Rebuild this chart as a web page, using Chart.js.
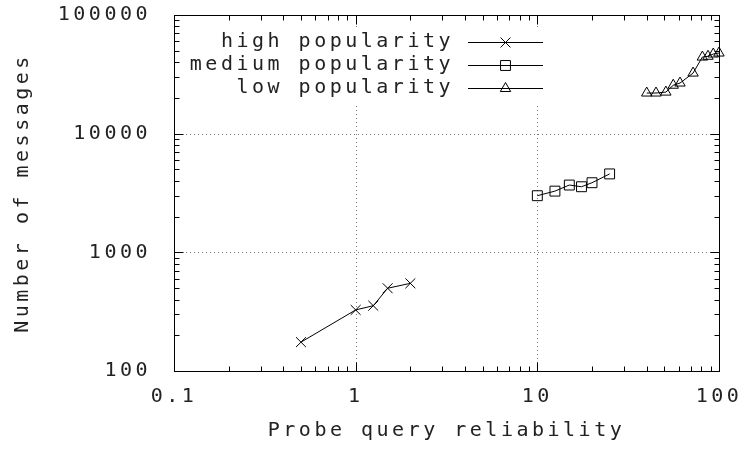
<!DOCTYPE html>
<html>
<head>
<meta charset="utf-8">
<script src="https://cdn.jsdelivr.net/npm/chart.js"></script>
<style>
  html, body { margin: 0; padding: 0; background: #fff; }
  #wrap { width: 750px; height: 449px; position: relative; }
</style>
</head>
<body>
<div id="wrap"><canvas id="c"></canvas></div>
<script>
// ---- data ----
const seriesNames = ['high popularity', 'medium popularity', 'low popularity'];
const highX = [0.5, 1, 1.25, 1.5, 2];
const highY = [175, 327, 355, 498, 548];
const mediumX = [10, 12.5, 15, 17.5, 20, 25];
const mediumY = [3000, 3280, 3690, 3570, 3860, 4580];
const lowX = [40, 45, 51, 56, 61, 72, 81, 87, 93, 100];
const lowY = [22000, 22000, 22400, 25600, 26700, 32400, 44200, 44900, 46900, 47800];
const xTickLabels = ['0.1', '1', '10', '100'];
const yTickLabels = ['100', '1000', '10000', '100000'];
const xTitle = 'Probe query reliability';
const yTitle = 'Number of messages';

// ---- styling ----
const FONT = 'DejaVu Sans Mono';
const FSIZE = 20;
const SPACING = '3.5px';
const TEXT = '#222';

const toPts = (xs, ys) => xs.map((x, i) => ({x: x, y: ys[i]}));
const xVals = xTickLabels.map(Number);
const yVals = yTickLabels.map(Number);
const isDecade = v => Math.abs(Math.log10(v) - Math.round(Math.log10(v))) < 1e-6;
const labelFor = (v, list) => {
  if (!isDecade(v)) return '';
  const idx = list.map(Number).findIndex(t => Math.abs(Math.log10(t) - Math.log10(v)) < 1e-6);
  return idx >= 0 ? list[idx] : '';
};

function tickValues(min, max) {
  const out = [];
  for (let e = Math.round(Math.log10(min)); e < Math.round(Math.log10(max)); e++) {
    for (let k = 1; k <= 9; k++) out.push({v: k * Math.pow(10, e), major: k === 1});
  }
  out.push({v: max, major: true});
  return out;
}

const spacingPlugin = {
  id: 'spacing',
  beforeUpdate(chart) { chart.ctx.letterSpacing = SPACING; },
  beforeLayout(chart) { chart.ctx.letterSpacing = SPACING; },
  beforeDraw(chart) { chart.ctx.letterSpacing = SPACING; }
};

function drawMarker(ctx, style, r, x, y) {
  if (Chart.helpers && Chart.helpers.drawPoint) {
    Chart.helpers.drawPoint(ctx, {pointStyle: style, radius: r, borderWidth: 1, rotation: 0}, x, y);
    return;
  }
  ctx.beginPath();
  if (style === 'crossRot') {
    const d = r * Math.SQRT1_2;
    ctx.moveTo(x - d, y - d); ctx.lineTo(x + d, y + d);
    ctx.moveTo(x - d, y + d); ctx.lineTo(x + d, y - d);
  } else if (style === 'rect') {
    const s = r * Math.SQRT1_2;
    ctx.rect(x - s, y - s, 2 * s, 2 * s);
  } else {
    ctx.moveTo(x, y - r);
    ctx.lineTo(x + r * Math.sin(2 * Math.PI / 3), y - r * Math.cos(2 * Math.PI / 3));
    ctx.lineTo(x + r * Math.sin(4 * Math.PI / 3), y - r * Math.cos(4 * Math.PI / 3));
    ctx.closePath();
  }
  ctx.stroke();
}

const framePlugin = {
  id: 'gnuframe',
  beforeDatasetsDraw(chart) {
    const ctx = chart.ctx, a = chart.chartArea;
    const xs = chart.scales.x, ys = chart.scales.y;
    ctx.save();
    // dotted grid at inner decades
    ctx.strokeStyle = '#777';
    ctx.lineWidth = 1;
    ctx.setLineDash([1, 3]);
    xVals.slice(1, -1).forEach(v => {
      const px = Math.round(xs.getPixelForValue(v)) + 0.5;
      ctx.beginPath(); ctx.moveTo(px, a.bottom); ctx.lineTo(px, a.top); ctx.stroke();
    });
    yVals.slice(1, -1).forEach(v => {
      const py = Math.round(ys.getPixelForValue(v)) + 0.5;
      ctx.beginPath(); ctx.moveTo(a.left, py); ctx.lineTo(a.right, py); ctx.stroke();
    });
    ctx.setLineDash([]);
    // key (legend) box, blanking the grid
    ctx.fillStyle = '#fff';
    ctx.fillRect(178, 27, 380, 76);
    ctx.font = FSIZE + 'px "' + FONT + '"';
    ctx.letterSpacing = SPACING;
    ctx.textAlign = 'right';
    ctx.textBaseline = 'middle';
    chart.data.datasets.forEach((ds, i) => {
      const y = 42 + i * 23;
      ctx.fillStyle = TEXT;
      ctx.fillText(ds.label, 454, y);
      ctx.strokeStyle = '#000';
      ctx.lineWidth = 1;
      ctx.beginPath(); ctx.moveTo(468, y + 0.5); ctx.lineTo(543, y + 0.5); ctx.stroke();
      ctx.fillStyle = 'rgba(0,0,0,0)';
      drawMarker(ctx, ds.pointStyle, ds.pointRadius, 505.5, y + 0.5);
    });
    ctx.restore();
  },
  afterDatasetsDraw(chart) {
    const ctx = chart.ctx, a = chart.chartArea;
    const xs = chart.scales.x, ys = chart.scales.y;
    ctx.save();
    ctx.strokeStyle = '#000';
    ctx.lineWidth = 1;
    const L = Math.round(a.left) + 0.5, R = Math.round(a.right) + 0.5;
    const T = Math.round(a.top) + 0.5, B = Math.round(a.bottom) + 0.5;
    ctx.strokeRect(L, T, R - L, B - T);
    ctx.beginPath();
    tickValues(xs.min, xs.max).forEach(t => {
      const px = Math.round(xs.getPixelForValue(t.v)) + 0.5;
      const len = t.major ? 9 : 5;
      ctx.moveTo(px, B); ctx.lineTo(px, B - len);
      ctx.moveTo(px, T); ctx.lineTo(px, T + len);
    });
    tickValues(ys.min, ys.max).forEach(t => {
      const py = Math.round(ys.getPixelForValue(t.v)) + 0.5;
      const len = t.major ? 9 : 5;
      ctx.moveTo(L, py); ctx.lineTo(L + len, py);
      ctx.moveTo(R, py); ctx.lineTo(R - len, py);
    });
    ctx.stroke();
    ctx.restore();
  }
};

Chart.defaults.font.family = FONT;
Chart.defaults.font.size = FSIZE;
Chart.defaults.color = TEXT;

const common = {showLine: true, borderColor: '#000', borderWidth: 1, pointBorderColor: '#000',
  pointBackgroundColor: 'rgba(0,0,0,0)', pointBorderWidth: 1, pointHoverRadius: 7, clip: false,
  tension: 0, fill: false};

new Chart(document.getElementById('c'), {
  type: 'scatter',
  data: {
    datasets: [
      Object.assign({label: seriesNames[0], data: toPts(highX, highY), pointStyle: 'crossRot', pointRadius: 7}, common),
      Object.assign({label: seriesNames[1], data: toPts(mediumX, mediumY), pointStyle: 'rect', pointRadius: 7}, common),
      Object.assign({label: seriesNames[2], data: toPts(lowX, lowY), pointStyle: 'triangle', pointRadius: 6}, common)
    ]
  },
  options: {
    responsive: true,
    maintainAspectRatio: false,
    animation: false,
    events: [],
    layout: {padding: {top: 15, right: 31, left: 0, bottom: 0}},
    plugins: {legend: {display: false}, tooltip: {enabled: false}},
    scales: {
      x: {
        type: 'logarithmic', min: xVals[0], max: xVals[xVals.length - 1],
        grid: {display: false, drawTicks: false},
        border: {display: false},
        ticks: {autoSkip: false, maxRotation: 0, minRotation: 0, padding: 14, color: TEXT,
          callback: v => labelFor(v, xTickLabels)},
        title: {display: true, text: xTitle, color: TEXT, padding: {top: 0, bottom: 6}},
        afterFit: s => { s.height = 78; s.paddingLeft = 0; s.paddingRight = 0; }
      },
      y: {
        type: 'logarithmic', min: yVals[0], max: yVals[yVals.length - 1],
        grid: {display: false, drawTicks: false},
        border: {display: false},
        ticks: {autoSkip: false, padding: 23, color: TEXT,
          callback: v => labelFor(v, yTickLabels)},
        title: {display: true, text: yTitle, color: TEXT, padding: {top: 11, bottom: 0}},
        afterFit: s => { s.width = 174; s.paddingTop = 0; s.paddingBottom = 0; }
      }
    }
  },
  plugins: [spacingPlugin, framePlugin]
});
</script>
</body>
</html>
